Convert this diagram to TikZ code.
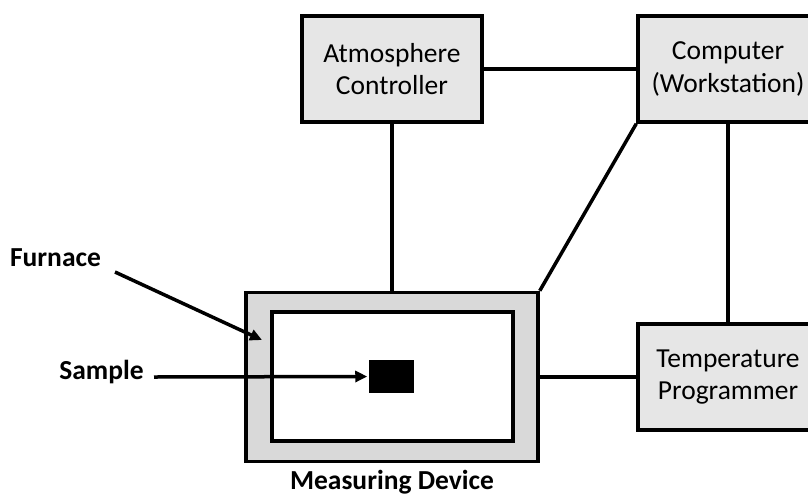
\documentclass[tikz,border=0pt]{standalone}
\usepackage{fontspec}
\setmainfont{Carlito}
\usetikzlibrary{arrows.meta}
\definecolor{boxgray}{RGB}{230,230,230}
\definecolor{furngray}{RGB}{217,217,217}

\begin{document}
\begin{tikzpicture}[x=1pt,y=-1pt,line width=3.5pt]
\tikzset{unit/.style={draw,fill=boxgray,minimum width=180pt,minimum height=106pt,inner sep=0pt,
    align=center,font=\fontsize{27.5}{32.5}\selectfont},
  lbl/.style={inner sep=0pt,font=\fontsize{27.5}{32.5}\selectfont\bfseries},
  pointer/.style={-{Triangle[length=12pt,width=11pt]}}}
\clip (0,0) rectangle (808,496);

% control units
\node[unit] (atm) at (392,69) {Atmosphere\\Controller};
\node[unit] (comp) at (728,69) {Computer\\(Workstation)};
\node[unit] (temp) at (728,377) {Temperature\\Programmer};

% measuring device: furnace with sample inside
\node[draw,fill=furngray,minimum width=292pt,minimum height=169pt,inner sep=0pt] (furn) at (392,377) {};
\node[draw,fill=white,minimum width=241pt,minimum height=129pt,inner sep=0pt] (chamber) at (392.5,376.5) {};
\node[fill=black,minimum width=45pt,minimum height=33pt,inner sep=0pt] (sample) at (391.5,376.5) {};
\node[lbl,anchor=base] (devlbl) at (392,489) {Measuring Device};

% connections
\draw (atm.east) -- (comp.west);
\draw (atm.south) -- (furn.north);
\draw (comp.south west) -- (furn.north east);
\draw (comp.south) -- (temp.north);
\draw (furn.east) -- (temp.west);

% labels with pointers
\node[lbl] (furnlbl) at (55.5,258) {Furnace};
\node[lbl] (samplbl) at (101.5,372) {Sample};
\coordinate (furntail) at (115,272);
\coordinate (furntip) at (262,340);
\coordinate (samptail) at (154,377);
\draw[pointer] (furntail) -- (furntip);
\draw[pointer] (samptail) -- (sample.west);

\end{tikzpicture}
\end{document}
